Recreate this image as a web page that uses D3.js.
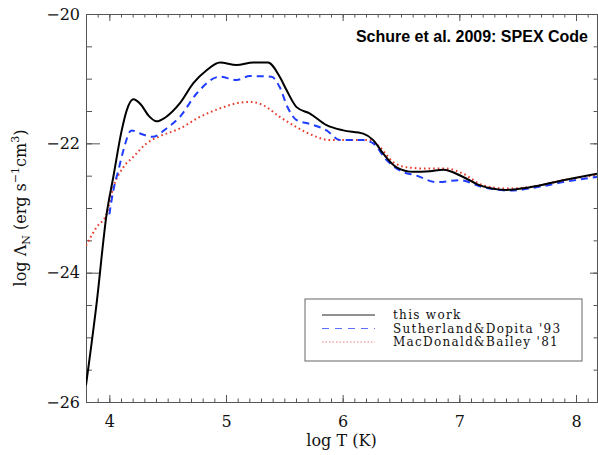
<!DOCTYPE html>
<html>
<head>
<meta charset="utf-8">
<script src="https://cdn.jsdelivr.net/npm/d3@7"></script>
<style>
  body { margin: 0; background: #fff; }
  svg { display: block; }
</style>
</head>
<body>
<div id="container"></div>
<script>
// log T values and log Lambda_N values
const thisWorkT = [3.8, 3.89, 3.977, 4.034, 4.106, 4.149, 4.205, 4.27, 4.34, 4.405, 4.48, 4.605, 4.72, 4.834, 4.948, 5.09, 5.234, 5.36, 5.46, 5.52, 5.605, 5.72, 5.862, 6.005, 6.176, 6.262, 6.348, 6.462, 6.605, 6.748, 6.862, 7.033, 7.176, 7.405, 7.605, 7.89, 8.18];
const thisWorkL = [-25.74, -24.49, -23.09, -22.52, -21.8, -21.49, -21.32, -21.4, -21.58, -21.66, -21.6, -21.38, -21.07, -20.87, -20.75, -20.79, -20.75, -20.75, -20.97, -21.18, -21.44, -21.54, -21.72, -21.8, -21.85, -21.95, -22.16, -22.37, -22.44, -22.43, -22.41, -22.52, -22.65, -22.72, -22.68, -22.57, -22.47];

const sdT = [4.0, 4.034, 4.08, 4.12, 4.19, 4.28, 4.37, 4.49, 4.605, 4.748, 4.948, 5.09, 5.205, 5.39, 5.46, 5.53, 5.605, 5.72, 5.862, 5.977, 6.176, 6.262, 6.377, 6.49, 6.634, 6.805, 7.005, 7.205, 7.433, 7.662, 7.89, 8.18];
const sdL = [-23.1, -22.73, -22.4, -22.11, -21.8, -21.86, -21.9, -21.77, -21.59, -21.23, -20.97, -21.02, -20.96, -20.97, -21.13, -21.45, -21.64, -21.7, -21.8, -21.95, -21.95, -22.0, -22.26, -22.42, -22.5, -22.6, -22.57, -22.68, -22.73, -22.68, -22.6, -22.52];

const mbT = [3.8, 3.89, 3.977, 4.034, 4.12, 4.205, 4.32, 4.434, 4.605, 4.777, 4.948, 5.12, 5.205, 5.32, 5.46, 5.605, 5.748, 5.89, 6.05, 6.233, 6.319, 6.433, 6.548, 6.72, 6.89, 7.033, 7.205, 7.405, 7.662, 7.89, 8.18];
const mbL = [-23.58, -23.3, -23.09, -22.68, -22.37, -22.21, -22.0, -21.89, -21.77, -21.59, -21.46, -21.37, -21.36, -21.41, -21.59, -21.75, -21.88, -21.95, -21.95, -21.95, -22.06, -22.29, -22.37, -22.39, -22.39, -22.47, -22.65, -22.7, -22.66, -22.57, -22.49];

const seriesNames = ["this work", "Sutherland&Dopita '93", "MacDonald&Bailey '81"];
const xTicks = [4, 5, 6, 7, 8];
const yTicks = [-20, -22, -24, -26];

const width = 598, height = 455;
const marginLeft = 86, marginRight = 1, marginTop = 14, marginBottom = 53;
const serif = "'DejaVu Serif', serif";

const x = d3.scaleLinear().domain([3.8, 8.18]).range([marginLeft, width - marginRight]);
const y = d3.scaleLinear().domain([-26, -20]).range([height - marginBottom, marginTop]);

const series = [
  {name: seriesNames[0], T: thisWorkT, L: thisWorkL, color: "#000", width: 2, dash: null, legendColor: "#222", legendDash: null},
  {name: seriesNames[1], T: sdT, L: sdL, color: "#1f3dff", width: 2, dash: "7,5", legendColor: "#5b70ff", legendDash: "7,6"},
  {name: seriesNames[2], T: mbT, L: mbL, color: "#e8382a", width: 2, dash: "1.6,3", legendColor: "#f07a70", legendDash: "1.5,2"}
];

const svg = d3.create("svg")
    .attr("width", width)
    .attr("height", height);

const xMinor = d3.range(3.8, 8.181, 0.1).map(v => +v.toFixed(1));
const yMinor = d3.range(-26, -19.99, 0.5);

// Ticks (drawn inward) on all four sides
function addAxis(axis, transform, labels) {
  const g = svg.append("g")
      .attr("transform", transform)
      .call(axis);
  g.select(".domain").attr("stroke", "#555");
  g.selectAll(".tick line").attr("stroke", "#555");
  if (!labels) g.selectAll(".tick text").remove();
  return g;
}

const bottomY = height - marginBottom;
const rightX = width - marginRight;

addAxis(d3.axisBottom(x).tickValues(xMinor).tickSizeInner(-3.5).tickSizeOuter(0), `translate(0,${bottomY})`, false);
addAxis(d3.axisTop(x).tickValues(xMinor).tickSizeInner(-3.5).tickSizeOuter(0), `translate(0,${marginTop})`, false);
addAxis(d3.axisLeft(y).tickValues(yMinor).tickSizeInner(-6).tickSizeOuter(0), `translate(${marginLeft},0)`, false);
addAxis(d3.axisRight(y).tickValues(yMinor).tickSizeInner(-3.5).tickSizeOuter(0), `translate(${rightX},0)`, false);

addAxis(d3.axisBottom(x).tickValues(xTicks).tickSizeInner(-7).tickSizeOuter(0).tickPadding(14).tickFormat(d3.format("d")), `translate(0,${bottomY})`, true)
    .selectAll("text").attr("font-family", serif).attr("font-size", 16).attr("fill", "#111");
addAxis(d3.axisTop(x).tickValues(xTicks).tickSizeInner(-7).tickSizeOuter(0), `translate(0,${marginTop})`, false);
addAxis(d3.axisLeft(y).tickValues(yTicks).tickSizeInner(-14).tickSizeOuter(0).tickPadding(6).tickFormat(d3.format("d")), `translate(${marginLeft},0)`, true)
    .selectAll("text").attr("font-family", serif).attr("font-size", 16).attr("fill", "#111");
addAxis(d3.axisRight(y).tickValues(yTicks).tickSizeInner(-7).tickSizeOuter(0), `translate(${rightX},0)`, false);

// Curves
svg.append("clipPath").attr("id", "plot-clip")
  .append("rect")
    .attr("x", marginLeft).attr("y", marginTop)
    .attr("width", rightX - marginLeft).attr("height", bottomY - marginTop);

const line = d3.line()
    .x(d => x(d[0]))
    .y(d => y(d[1]))
    .curve(d3.curveMonotoneX);

svg.append("g")
    .attr("clip-path", "url(#plot-clip)")
  .selectAll("path")
  .data(series.slice().reverse())
  .join("path")
    .attr("fill", "none")
    .attr("stroke", d => d.color)
    .attr("stroke-width", d => d.width)
    .attr("stroke-dasharray", d => d.dash)
    .attr("d", d => line(d.T.map((t, i) => [t, d.L[i]])));

// Axis titles
svg.append("text")
    .attr("x", (marginLeft + rightX) / 2)
    .attr("y", 446)
    .attr("text-anchor", "middle")
    .attr("font-family", serif)
    .attr("font-size", 16)
    .attr("fill", "#111")
    .text("log T (K)");

const yTitle = svg.append("text")
    .attr("transform", `translate(26,${(marginTop + bottomY) / 2}) rotate(-90)`)
    .attr("text-anchor", "middle")
    .attr("font-family", serif)
    .attr("font-size", 16)
    .attr("fill", "#111");
yTitle.append("tspan").text("log Λ");
yTitle.append("tspan").attr("font-size", 11).attr("dy", 4).text("N");
yTitle.append("tspan").attr("dy", -4).text(" (erg s");
yTitle.append("tspan").attr("font-size", 11).attr("dy", -7).text("−1");
yTitle.append("tspan").attr("dy", 7).text("cm");
yTitle.append("tspan").attr("font-size", 11).attr("dy", -7).text("3");
yTitle.append("tspan").attr("dy", 7).text(")");

// Figure title
svg.append("text")
    .attr("x", 588)
    .attr("y", 42)
    .attr("text-anchor", "end")
    .attr("font-family", "'Liberation Sans', Arial, sans-serif")
    .attr("font-weight", "bold")
    .attr("font-size", 16)
    .attr("fill", "#000")
    .text("Schure et al. 2009: SPEX Code");

// Legend
const legend = svg.append("g").attr("transform", "translate(305,299)");
legend.append("rect")
    .attr("width", 277).attr("height", 62)
    .attr("fill", "#fff").attr("stroke", "#666");

const rows = legend.selectAll("g.row")
  .data(series)
  .join("g")
    .attr("class", "row")
    .attr("transform", (d, i) => `translate(0,${20 + i * 13.5})`);

rows.append("line")
    .attr("x1", 17).attr("x2", 70)
    .attr("y1", -4).attr("y2", -4)
    .attr("stroke", d => d.legendColor)
    .attr("stroke-width", 1)
    .attr("stroke-dasharray", d => d.legendDash);

rows.append("text")
    .attr("x", 88)
    .attr("font-family", serif)
    .attr("font-size", 12)
    .attr("letter-spacing", 1.3)
    .attr("fill", "#111")
    .text(d => d.name);

d3.select("#container").append(() => svg.node());
</script>
</body>
</html>
